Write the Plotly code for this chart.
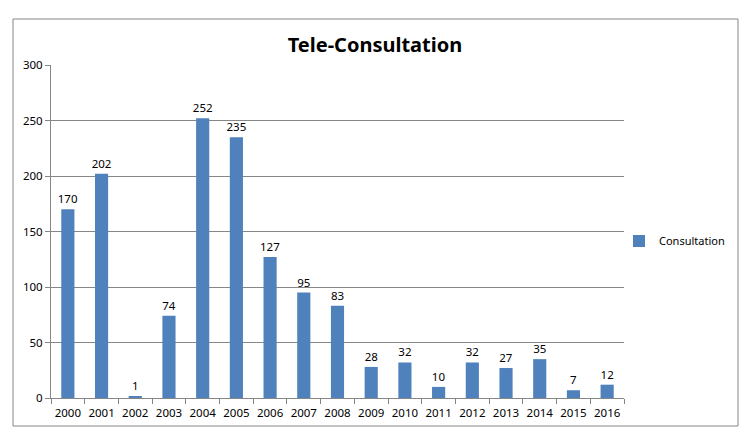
import plotly.graph_objects as go

years = [str(y) for y in range(2000, 2017)]
consultation = [170, 202, 1, 74, 252, 235, 127, 95, 83, 28, 32, 10, 32, 27, 35, 7, 12]

# page body has an 8px default margin; work in page pixels and shift
OFF = 8
W, H = 748 - 2 * OFF, 447 - 2 * OFF
L, R, T, B = 51 - OFF, 748 - 624 - OFF, 65 - OFF, 447 - 398 - OFF
pw, ph = W - L - R, H - T - B

def px_x(p):
    return (p - OFF - L) / pw

def px_y(p):
    return (H - B - (p - OFF)) / ph

fig = go.Figure()
fig.add_trace(go.Bar(
    x=years, y=consultation, name="Consultation",
    marker=dict(color="#4F81BD", line=dict(width=0)),
    text=consultation, textposition="outside", cliponaxis=False,
    constraintext="none",
    textfont=dict(size=11.5, color="#000000"),
    showlegend=True,
))

fig.update_layout(
    width=W, height=H,
    margin=dict(l=L, r=R, t=T, b=B, autoexpand=False),
    paper_bgcolor="white", plot_bgcolor="white",
    font=dict(family="Noto Sans, Open Sans, sans-serif", size=11, color="#000"),
    title=dict(text="<b>Tele-Consultation</b>", x=(375 - OFF) / W, xanchor="center",
               y=1 - (45 - OFF) / H, yanchor="middle",
               font=dict(size=20, color="#000")),
    bargap=0.61,
    showlegend=True,
    legend=dict(x=px_x(619), y=px_y(241), xanchor="left", yanchor="middle",
                font=dict(size=11), itemwidth=30, bgcolor="rgba(0,0,0,0)"),
    xaxis=dict(type="category", showline=True, linecolor="#868686", linewidth=1,
               ticks="outside", tickson="boundaries", ticklen=5, tickcolor="#868686",
               showgrid=False, tickangle=0, tickfont=dict(size=11.5),
               ticklabelstandoff=4, fixedrange=True),
    yaxis=dict(range=[0, 300], dtick=50, showline=True, linecolor="#868686", linewidth=1,
               ticks="outside", ticklen=5, tickcolor="#868686",
               showgrid=True, gridcolor="#868686", gridwidth=1,
               zeroline=False, tickfont=dict(size=11.5), fixedrange=True),
    shapes=[dict(type="rect", xref="paper", yref="paper",
                 x0=px_x(13), x1=px_x(738), y0=px_y(426), y1=px_y(19),
                 line=dict(color="#868686", width=1), fillcolor="rgba(0,0,0,0)",
                 layer="below")],
)

fig.write_html("out.html")
